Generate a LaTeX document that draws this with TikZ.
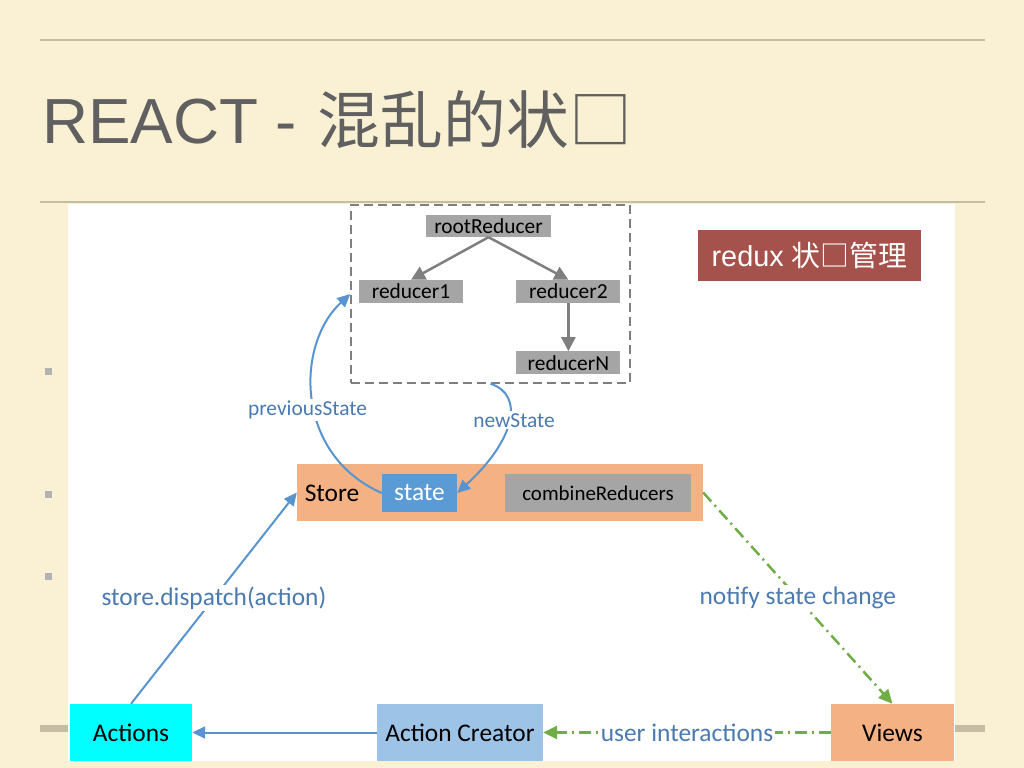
\documentclass[tikz,border=0pt]{standalone}
\usepackage{fontspec}
\setmainfont{Liberation Sans}
\newfontfamily\cjk{Noto Sans CJK SC}
\newfontfamily\calib{Carlito}
\usetikzlibrary{arrows.meta,positioning}

\definecolor{bgbeige}{RGB}{250,241,213}
\definecolor{rulegray}{RGB}{197,189,163}
\definecolor{bulletgray}{RGB}{178,178,178}
\definecolor{titlegray}{RGB}{96,96,96}
\definecolor{reduxred}{RGB}{166,82,76}
\definecolor{storeorange}{RGB}{244,177,131}
\definecolor{stateblue}{RGB}{91,155,213}
\definecolor{redgray}{RGB}{165,165,165}
\definecolor{actcyan}{RGB}{0,255,255}
\definecolor{acblue}{RGB}{157,195,230}
\definecolor{arrblue}{RGB}{88,148,208}
\definecolor{arrgreen}{RGB}{112,173,71}
\definecolor{lblblue}{RGB}{74,122,176}
\definecolor{treearr}{RGB}{127,127,127}

\begin{document}
\begin{tikzpicture}[x=1bp,y=-1bp,
  box/.style={inner sep=0pt, minimum height=57bp, font=\calib\fontsize{25.5}{30}\selectfont},
  reducer/.style={fill=redgray, inner sep=0pt, minimum width=104bp, minimum height=23bp, font=\calib\fontsize{21.5}{25}\selectfont},
  lbl/.style={fill=white, inner sep=2bp, text=lblblue, font=\calib\fontsize{25.5}{30}\selectfont},
  slbl/.style={lbl, font=\calib\fontsize{21.5}{25}\selectfont},
  flow/.style={arrblue, line width=2bp, -{Triangle[length=13bp,width=12bp]}},
  notify/.style={arrgreen, line width=2.5bp, dash pattern=on 12bp off 5bp on 2bp off 5bp, -{Triangle[length=14bp,width=13bp]}},
  tree/.style={treearr, line width=2.5bp, -{Triangle[length=14bp,width=14bp]}}]

	% slide
	\fill[bgbeige] (0,0) rectangle (1024,768);
	\useasboundingbox (0,0) rectangle (1024,768);
	\draw[rulegray, line width=2.5bp] (40,40) -- (985,40);
	\draw[rulegray, line width=2.5bp] (40,202) -- (985,202);
	\draw[rulegray, line width=7bp] (40,728) -- (985,728);
	\foreach \y in {371,494,576}
		\fill[bulletgray] (44.5,\y-3.5) rectangle ++(7,7);
	\node[anchor=base west, inner sep=0pt, text=titlegray, font=\fontsize{64}{72}\selectfont] (title) at (42,143) {REACT - \hspace{3bp}{\cjk\fontsize{63}{72}\selectfont 混乱的状□}};
	\fill[white] (68,204) rectangle (955,761);

	% reducers
	\node[draw=treearr, line width=1.5bp, dash pattern=on 9bp off 5bp, minimum width=279bp, minimum height=178bp] (frame) at (490.5,294) {};
	\node[reducer, minimum width=125bp, minimum height=22bp] (root) at (488.5,226) {rootReducer};
	\node[reducer]          (r1) at (411,291.5)     {reducer1};
	\node[reducer]          (r2) [right=53bp of r1] {reducer2};
	\node[reducer]          (rN) [below=48bp of r2] {reducerN};

	\node[fill=reduxred, text=white, inner sep=0pt, minimum width=223bp, minimum height=51bp, font=\fontsize{29}{34}\selectfont] (redux) at (809.5,255.5) {redux {\cjk 状□管理}};

	% store
	\node[box, fill=storeorange, minimum width=406bp] (store) at (500,492.5) {};
	\node[box, minimum height=0pt] (storetxt) at (332,493) {Store};
	\node[box, fill=stateblue, text=white, minimum width=75bp, minimum height=38bp] (state) at (419.5,493) {state};
	\node[box, fill=redgray, minimum width=186bp, minimum height=38bp, font=\calib\fontsize{21}{25}\selectfont] (comb) at (598,493) {combineReducers};

	% bottom row
	\node[box, fill=actcyan, minimum width=122bp] (act)   at (131,732.5) {Actions};
	\node[box, fill=acblue, minimum width=166bp]  (ac)    at (460,732.5) {Action Creator};
	\node[box, fill=storeorange, minimum width=123bp] (views) at (892.5,732.5) {Views};

	\path[tree] (root.south) edge (r1.north)
	                         edge (r2.north)
	            (r2)         edge (rN);

	\draw[flow] (state.west) .. controls (295,455) and (295,345) .. (frame.west) node[slbl, pos=0.45, xshift=-7bp] {previousState};
	\draw[flow] (frame.south) .. controls (525,395) and (515,440) .. (state.east) node[slbl, pos=0.48, xshift=5bp] {newState};

	\path[flow] (act.north) edge node[lbl] {store.dispatch(action)} (store.west)
	            (ac)        edge (act);
	\path[notify] (store.east) edge node[lbl] {notify state change} (views.north)
	              (views)      edge node[lbl] {user interactions} (ac);

\end{tikzpicture}
\end{document}
